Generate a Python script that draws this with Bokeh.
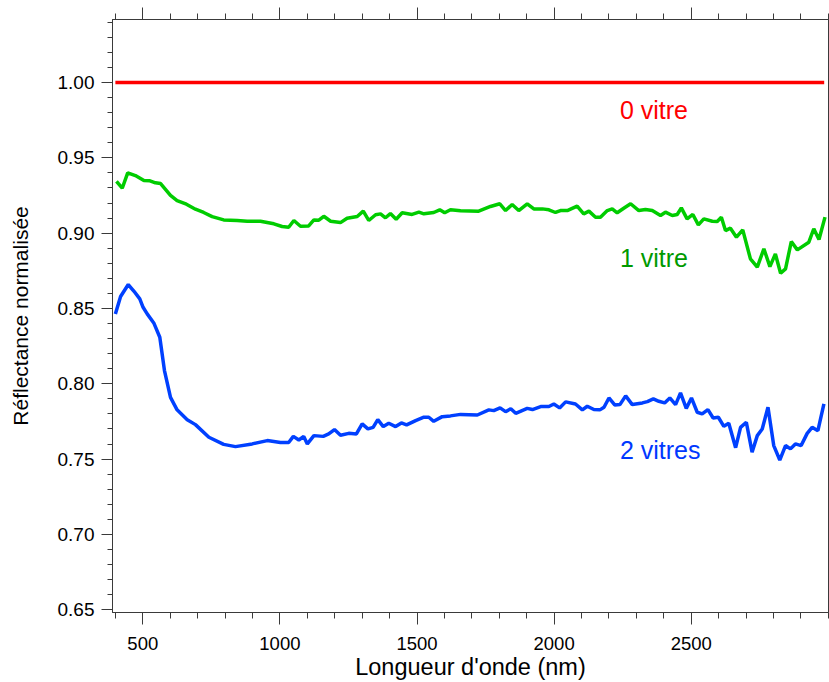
from bokeh.plotting import figure
from bokeh.models import Range1d, FixedTicker, PrintfTickFormatter, LinearAxis, Label
from bokeh.embed import file_html
from bokeh.resources import INLINE

# ---- data ----
x_red = [400, 2985]
y_red = [1.0, 1.0]

x_green = [404, 425, 445, 473, 504, 526, 546, 565, 601, 625, 659, 692, 722, 753, 795, 844, 881, 929, 978, 1008,
           1032, 1051, 1075, 1105, 1124, 1142, 1160, 1185, 1221, 1245, 1282, 1304, 1324, 1349, 1367, 1385, 1403, 1424, 1446, 1482,
           1507, 1525, 1561, 1583, 1601, 1622, 1659, 1725, 1768, 1802, 1823, 1847, 1871, 1902, 1926, 1957, 1981, 2005, 2023, 2048,
           2084, 2108, 2127, 2151, 2169, 2194, 2212, 2230, 2254, 2279, 2309, 2333, 2358, 2388, 2406, 2431, 2449, 2464, 2485, 2506,
           2526, 2546, 2577, 2595, 2610, 2625, 2643, 2665, 2688, 2716, 2741, 2765, 2787, 2807, 2826, 2844, 2865, 2887, 2929, 2947,
           2966, 2988]
y_green = [0.9343, 0.9298, 0.940, 0.9382, 0.9349, 0.9347, 0.9334, 0.9329, 0.925, 0.9216,
           0.9192, 0.9159, 0.9137, 0.911, 0.9088, 0.9084, 0.9079, 0.9079, 0.9062, 0.9044,
           0.9039, 0.9084, 0.9046, 0.9048, 0.9088, 0.9086, 0.9112, 0.9079, 0.907, 0.9099,
           0.911, 0.9146, 0.9084, 0.9122, 0.9128, 0.9102, 0.913, 0.9092, 0.9135, 0.9124,
           0.9139, 0.9128, 0.9137, 0.9155, 0.9135, 0.9155, 0.9148, 0.9146, 0.9177, 0.9195,
           0.915, 0.919, 0.915, 0.9195, 0.9161, 0.9161, 0.9155, 0.9137, 0.915, 0.915,
           0.9179, 0.9128, 0.9146, 0.9106, 0.9106, 0.915, 0.9161, 0.9135, 0.9165, 0.9195,
           0.915, 0.9157, 0.915, 0.9117, 0.9139, 0.9117, 0.9124, 0.9168, 0.9095, 0.9124,
           0.9055, 0.9095, 0.9079, 0.9077, 0.9106, 0.9017, 0.9033, 0.8973, 0.9022, 0.8829,
           0.8774, 0.8896, 0.8778, 0.8862, 0.8734, 0.8763, 0.8944, 0.8889, 0.894, 0.9029,
           0.8958, 0.9106]

x_blue = [400, 419, 447, 468, 489, 501, 516, 540, 562, 579, 601, 625, 662, 692, 741, 795, 838, 899, 954, 1002,
          1032, 1049, 1069, 1087, 1100, 1124, 1158, 1178, 1199, 1221, 1251, 1279, 1300, 1321, 1340, 1357, 1377, 1397, 1422, 1443,
          1462, 1495, 1525, 1543, 1561, 1592, 1622, 1659, 1720, 1762, 1780, 1803, 1823, 1842, 1860, 1902, 1921, 1951, 1981, 1999,
          2020, 2042, 2078, 2103, 2121, 2145, 2167, 2182, 2200, 2221, 2240, 2261, 2285, 2322, 2340, 2362, 2382, 2403, 2422, 2443,
          2461, 2482, 2501, 2522, 2540, 2561, 2580, 2599, 2619, 2637, 2662, 2680, 2701, 2722, 2741, 2759, 2780, 2801, 2823, 2844,
          2862, 2880, 2901, 2923, 2941, 2962, 2984]
y_blue = [0.8464, 0.8579, 0.8659, 0.8614, 0.8564, 0.8508, 0.8464, 0.8404, 0.8309, 0.8088,
          0.791, 0.7827, 0.7762, 0.7729, 0.7645, 0.7598, 0.7583, 0.7601, 0.7623, 0.761,
          0.761, 0.7651, 0.7627, 0.7651, 0.7601, 0.7656, 0.7651, 0.7667, 0.7696, 0.7658,
          0.7671, 0.7667, 0.7734, 0.7701, 0.7711, 0.7762, 0.7716, 0.7738, 0.7716, 0.774,
          0.7727, 0.7756, 0.7778, 0.7778, 0.7751, 0.7782, 0.7787, 0.7797, 0.7793, 0.7827,
          0.7822, 0.784, 0.7815, 0.7835, 0.7804, 0.7837, 0.7829, 0.7849, 0.7849, 0.7866,
          0.784, 0.788, 0.7866, 0.7827, 0.7851, 0.7829, 0.7827, 0.7844, 0.7906, 0.786,
          0.7862, 0.792, 0.7862, 0.7873, 0.7882, 0.79, 0.7884, 0.7873, 0.7906, 0.7862,
          0.794, 0.7837, 0.7906, 0.7811, 0.78, 0.7829, 0.7773, 0.7778, 0.7718, 0.7738,
          0.7576, 0.7711, 0.7745, 0.7546, 0.7656, 0.77, 0.7844, 0.759, 0.7494, 0.759,
          0.7568, 0.7601, 0.759, 0.7671, 0.7711, 0.7689, 0.7867]

series_labels = ["0 vitre", "1 vitre", "2 vitres"]
label_x = [2240, 2240, 2240]
label_y = [0.9816, 0.8833, 0.7562]

x_major = [500, 1000, 1500, 2000, 2500]
x_minor = list(range(400, 3001, 100))
y_major = [0.65, 0.70, 0.75, 0.80, 0.85, 0.90, 0.95, 1.00]
y_minor = [round(0.65 + 0.01 * i, 2) for i in range(0, 40)]

# ---- styling ----
FONT = "Liberation Sans"
AX = "#3a3a3a"
RED, GREEN, BLUE = "#FF0000", "#00CC00", "#0040FF"
TEXT_COLORS = ["#FF0000", "#009A00", "#0038FF"]

p = figure(width=829, height=682, output_backend="svg", toolbar_location=None,
           x_range=Range1d(389.5, 3000.7), y_range=Range1d(0.6482, 1.0418),
           x_axis_location=None, y_axis_location=None,
           min_border_left=112, min_border_right=0, min_border_top=19, min_border_bottom=70)
p.xgrid.visible = False
p.ygrid.visible = False
p.outline_line_color = AX
p.outline_line_width = 1
p.background_fill_color = "white"
p.border_fill_color = "white"


def style_axis(ax, major_out, minor_out):
    ax.axis_line_color = AX
    ax.major_tick_line_color = AX
    ax.minor_tick_line_color = AX
    ax.major_tick_in = 0
    ax.minor_tick_in = 0
    ax.major_tick_out = major_out
    ax.minor_tick_out = minor_out
    ax.major_label_text_font = FONT
    ax.major_label_text_color = "black"
    ax.axis_label_text_font = FONT
    ax.axis_label_text_font_style = "normal"
    ax.axis_label_text_color = "black"


xt = FixedTicker(ticks=x_major, minor_ticks=x_minor)
yt = FixedTicker(ticks=y_major, minor_ticks=y_minor)

bottom = LinearAxis(ticker=xt, formatter=PrintfTickFormatter(format="%d"),
                    axis_label="Longueur d'onde (nm)")
style_axis(bottom, 12, 6)
bottom.major_label_text_font_size = "18.5px"
bottom.major_label_standoff = 12
bottom.axis_label_text_font_size = "23.5px"
bottom.axis_label_standoff = 1
p.add_layout(bottom, "below")

left = LinearAxis(ticker=yt, formatter=PrintfTickFormatter(format="%.2f"),
                  axis_label="Réflectance normalisée")
style_axis(left, 11, 5)
left.major_label_text_font_size = "19px"
left.major_label_standoff = 7
left.axis_label_text_font_size = "21px"
left.axis_label_standoff = 23
p.add_layout(left, "left")

# top: ticks only (no labels); inner axis = short ticks, outer = long ticks at majors
top_short = LinearAxis(ticker=FixedTicker(ticks=[], minor_ticks=x_minor))
style_axis(top_short, 6, 6)
top_short.major_label_standoff = 0
top_short.axis_label_standoff = 0
p.add_layout(top_short, "above")

top_long = LinearAxis(ticker=FixedTicker(ticks=[], minor_ticks=x_major))
style_axis(top_long, 6, 6)
top_long.axis_line_color = None
top_long.minor_tick_in = 6
top_long.major_label_standoff = 0
top_long.axis_label_standoff = 0
p.add_layout(top_long, "above")

# right: tiny ticks only
right = LinearAxis(ticker=FixedTicker(ticks=[], minor_ticks=y_minor))
style_axis(right, 1, 1)
right.major_label_standoff = 0
right.axis_label_standoff = 0
p.add_layout(right, "right")

p.line(x_red, y_red, line_color=RED, line_width=3.5)
p.line(x_green, y_green, line_color=GREEN, line_width=3.5)
p.line(x_blue, y_blue, line_color=BLUE, line_width=3.5)

for t, lx, ly, c in zip(series_labels, label_x, label_y, TEXT_COLORS):
    p.add_layout(Label(x=lx, y=ly, text=t, text_color=c, text_font=FONT,
                       text_font_size="25px", text_baseline="middle", text_align="left"))

open("out.html", "w").write(file_html(p, INLINE))
